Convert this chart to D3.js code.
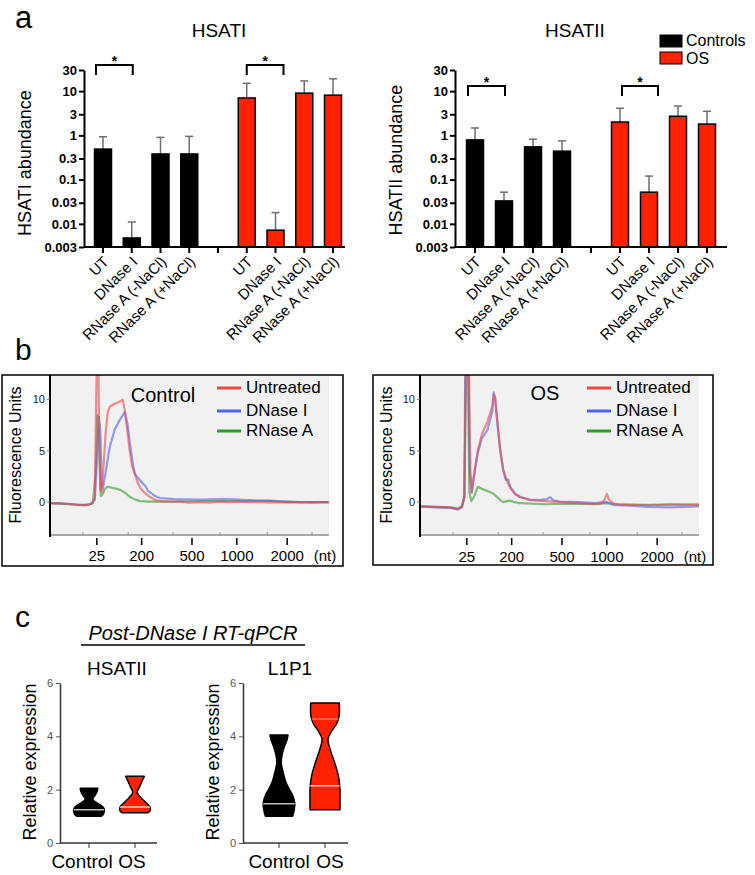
<!DOCTYPE html>
<html>
<head>
<meta charset="utf-8">
<script src="https://cdn.jsdelivr.net/npm/d3@7"></script>
<style>
  body { margin: 0; background: #fff; }
  svg { font-family: "Liberation Sans", Arial, sans-serif; }
</style>
</head>
<body>
<svg id="fig" width="755" height="875"></svg>
<script>
const FONT = '"Liberation Sans", Arial, sans-serif';

// ---------- panel a : abundance (log scale) ----------
const treatments = ["UT", "DNase I", "RNase A (-NaCl)", "RNase A (+NaCl)"];
const groupNames = ["Controls", "OS"];
const groupColors = ["#000000", "#ff2200"];
const logTicks = [0.003, 0.01, 0.03, 0.1, 0.3, 1, 3, 10, 30];
const logTickLabels = ["0.003", "0.01", "0.03", "0.1", "0.3", "1", "3", "10", "30"];

const hsat1Controls = [0.49, 0.0048, 0.38, 0.38];
const hsat1ControlsErr = [0.93, 0.011, 0.90, 0.95];
const hsat1OS = [7.0, 0.0072, 9.0, 8.1];
const hsat1OSErr = [15, 0.018, 17, 19];

const hsat2Controls = [0.79, 0.033, 0.55, 0.44];
const hsat2ControlsErr = [1.47, 0.052, 0.82, 0.75];
const hsat2OS = [2.0, 0.052, 2.7, 1.8];
const hsat2OSErr = [4.1, 0.12, 4.6, 3.5];

// ---------- panel b : bioanalyzer traces [time (s), FU] ----------
const ladderNt = ["25", "200", "500", "1000", "2000"];
const ladderTime = [29.4, 38.4, 48.5, 57.5, 67.6];
const minorTime = [26.6, 35.7, 44.7, 54.1, 63.6, 72.6];
const fuTicks = [0, 5, 10];
const traceNames = ["Untreated", "DNase I", "RNase A"];
const traceColors = ["#f04848", "#4d62f2", "#2f9a2f"];

const ctrlUntreated = [[20,-0.1],[22,-0.1],[24,-0.2],[26,-0.3],[27.5,-0.3],[28.5,-0.1],[29.0,0.5],[29.2,8],[29.4,14],[29.7,14],[29.9,5],[30.1,1.2],[30.4,1.0],[30.8,4],[31.2,7],[31.6,8.8],[32.0,9.3],[33,9.6],[34,9.8],[34.6,10.0],[35.0,9.0],[35.5,7],[36.0,5],[36.5,3.5],[37.1,2.6],[37.6,1.9],[38.1,1.4],[39,0.9],[40.1,0.5],[41.1,0.2],[43,0.05],[46,0.05],[48,-0.05],[50,0.0],[52,-0.05],[54,0.05],[56,0.0],[58,0.05],[60,0.0],[62,0.02],[64,-0.05],[66,0.0],[68,-0.05],[70,0.0],[72,-0.05],[76,0.0]];
const ctrlDNase = [[20,-0.1],[23,-0.15],[26,-0.25],[28,-0.2],[29,0.2],[29.5,5],[29.8,8.3],[30.1,7],[30.4,1.5],[30.6,1.3],[31.2,3],[32,5.4],[33,7.1],[34,8.0],[35,8.8],[35.6,7.5],[36.1,5.5],[36.7,3.5],[37.1,2.7],[38.1,2.1],[39.1,1.6],[39.7,1.1],[41.1,0.6],[42.1,0.4],[45,0.3],[50,0.25],[55,0.3],[60,0.2],[66,0.1],[70,0],[76,0]];
const ctrlRNase = [[20,-0.1],[24,-0.2],[27,-0.3],[28.6,-0.1],[29.2,3],[29.5,8.5],[29.8,7],[30.2,0.6],[30.6,0.8],[31.0,1.3],[31.6,1.5],[32.5,1.4],[33.1,1.35],[34.1,1.2],[35.1,0.9],[36.1,0.5],[37.1,0.25],[38.1,0.1],[40,0.05],[45,0.05],[50,0.1],[55,0.1],[60,0.1],[64,0.15],[66,0.05],[70,0],[76,0]];

const osUntreated = [[20,-0.4],[23,-0.45],[26,-0.5],[27.6,-0.7],[28.4,-0.5],[28.9,0.5],[29.2,14],[29.8,14],[30.1,3],[30.4,0.9],[30.7,2.2],[31.0,3.2],[31.6,5.0],[32.4,6.6],[33.5,7.8],[34.5,9.3],[34.8,10.5],[35.1,10.2],[35.5,8.0],[36.1,5.2],[36.7,3.2],[37.5,2.0],[38.1,1.4],[39.1,0.8],[40.1,0.5],[42.1,0.2],[45,0.1],[48,0.0],[52,-0.1],[56,-0.2],[57.0,0.2],[57.5,0.8],[58.0,0.2],[59,-0.2],[62,-0.25],[66,-0.3],[70,-0.25],[76,-0.3]];
const osDNase = [[20,-0.4],[23,-0.5],[26,-0.55],[27.6,-0.7],[28.4,-0.5],[28.9,0.5],[29.1,14],[29.7,14],[30.0,3],[30.4,1.0],[30.7,2.0],[31.0,3.0],[31.6,4.8],[32.4,6.2],[33.5,7.0],[34.5,8.8],[34.8,10.7],[35.1,10.0],[35.5,7.8],[36.1,5.0],[36.7,3.1],[37.2,2.2],[37.7,2.2],[38.1,1.5],[39.1,0.8],[40.1,0.5],[42.1,0.25],[44,0.2],[45.5,0.3],[46.1,0.5],[46.7,0.2],[48,0.05],[52,0.0],[55,-0.1],[57.5,0.0],[59,-0.3],[62,-0.35],[66,-0.45],[70,-0.5],[73,-0.45],[76,-0.4]];
const osRNase = [[20,-0.4],[23,-0.45],[26,-0.5],[27.6,-0.6],[28.4,-0.4],[28.9,0.5],[29.3,14],[29.6,14],[29.9,1],[30.3,0.1],[30.8,0.5],[31.6,1.5],[32.4,1.3],[33.5,1.1],[34.5,0.9],[35.5,0.5],[36.1,0.2],[36.7,0.0],[37.5,0.1],[38.1,0.15],[39,0.0],[40,-0.1],[45,-0.2],[50,-0.15],[55,-0.2],[57.5,-0.1],[60,-0.2],[66,-0.25],[70,-0.2],[76,-0.2]];

// ---------- panel c : violins [value, relative half-width] ----------
const violinGroups = ["Control", "OS"];
const exprTicks = [0, 2, 4, 6];
const hsat2CtrlShape = [[1.0,0.8],[1.08,0.97],[1.3,1.0],[1.45,0.7],[1.55,0.4],[1.65,0.25],[1.8,0.42],[1.95,0.55],[2.05,0.58]];
const hsat2OSShape = [[1.13,0.85],[1.2,1.0],[1.35,1.0],[1.5,0.75],[1.7,0.4],[1.9,0.15],[2.1,0.3],[2.3,0.45],[2.5,0.62]];
const hsat2Medians = [1.25, 1.35];
const l1p1CtrlShape = [[1.0,0.9],[1.2,1.0],[1.5,1.05],[1.8,0.9],[2.0,0.7],[2.3,0.45],[2.6,0.3],[3.0,0.15],[3.3,0.2],[3.6,0.35],[3.9,0.55],[4.05,0.6]];
const l1p1OSShape = [[1.25,1.0],[1.6,1.0],[2.0,1.0],[2.5,0.9],[3.0,0.65],[3.5,0.35],[3.9,0.2],[4.2,0.45],[4.5,0.8],[4.8,0.95],[5.25,0.95]];
const l1p1Medians = [1.47, 2.15];
const l1p1Quartiles = [[], [4.65]];

const svg = d3.select("#fig");

function panelLetter(txt, x, y, size) {
  svg.append("text").attr("x", x).attr("y", y).attr("font-size", size).text(txt);
}

// ===== panel a =====
function drawAbundance(cfg) {
  const g = svg.append("g").attr("transform", `translate(${cfg.left},0)`);
  const y = d3.scaleLog().domain([0.003, 30]).range([247, 70]);
  const slots = treatments.map(t => "C" + t).concat(["gap"], treatments.map(t => "O" + t));
  const x = d3.scalePoint().domain(slots).range(cfg.xRange);

  const rows = [];
  treatments.forEach((t, i) => rows.push({ slot: "C" + t, v: cfg.ctrl[i], e: cfg.ctrlErr[i], c: groupColors[0] }));
  treatments.forEach((t, i) => rows.push({ slot: "O" + t, v: cfg.os[i], e: cfg.osErr[i], c: groupColors[1] }));

  // error bars
  const eg = g.selectAll(".err").data(rows).join("g").attr("stroke", "#6e6e6e").attr("stroke-width", 1.5);
  eg.append("line").attr("x1", d => x(d.slot)).attr("x2", d => x(d.slot)).attr("y1", d => y(d.v)).attr("y2", d => y(d.e));
  eg.append("line").attr("x1", d => x(d.slot) - 4).attr("x2", d => x(d.slot) + 4).attr("y1", d => y(d.e)).attr("y2", d => y(d.e));

  // bars
  g.selectAll(".bar").data(rows).join("rect")
    .attr("x", d => x(d.slot) - 8.5).attr("width", 17)
    .attr("y", d => y(d.v)).attr("height", d => y(0.003) - y(d.v))
    .attr("fill", d => d.c).attr("stroke", "#000").attr("stroke-width", 1.5);

  // y axis
  g.append("g")
    .call(d3.axisLeft(y).tickValues(logTicks).tickFormat((d, i) => logTickLabels[i]).tickSize(5).tickSizeOuter(0))
    .attr("font-family", FONT).attr("font-size", 13).attr("font-weight", "bold")
    .call(a => a.select(".domain").attr("stroke-width", 2))
    .call(a => a.selectAll(".tick line").attr("stroke-width", 2))
    .call(a => a.selectAll(".tick text").attr("x", -7));

  // x axis
  g.append("line").attr("x1", 0).attr("x2", cfg.axisLen).attr("y1", y(0.003)).attr("y2", y(0.003))
    .attr("stroke", "#000").attr("stroke-width", 2);
  const tk = g.selectAll(".xt").data(slots).join("g").attr("transform", d => `translate(${x(d)},${y(0.003)})`);
  tk.append("line").attr("y2", 6).attr("stroke", "#000").attr("stroke-width", 2);
  tk.append("text").attr("transform", "translate(3,12) rotate(-45)")
    .attr("text-anchor", "end").attr("dy", "0.35em").attr("font-size", 15)
    .text(d => d === "gap" ? "" : d.slice(1));

  // significance brackets
  cfg.brackets.forEach(b => {
    const x0 = x(b.from) + b.off[0], x1 = x(b.to) + b.off[1], yb = y(cfg.bracketAt);
    g.append("path").attr("d", `M${x0},${yb + 10}V${yb}H${x1}V${yb + 10}`)
      .attr("fill", "none").attr("stroke", "#000").attr("stroke-width", 2);
    g.append("text").attr("x", (x0 + x1) / 2).attr("y", yb + 1).attr("text-anchor", "middle")
      .attr("font-size", 14).attr("font-weight", "bold").text("*");
  });

  // titles
  g.append("text").attr("x", cfg.titleX).attr("y", 37).attr("text-anchor", "middle").attr("font-size", 19).text(cfg.title);
  g.append("text").attr("transform", `translate(${cfg.labelX},${cfg.labelY}) rotate(-90)`)
    .attr("text-anchor", "middle").attr("dy", "0.35em").attr("font-size", 18).text(cfg.yLabel);
}

panelLetter("a", 15, 28, 31);
drawAbundance({
  left: 84, xRange: [19, 249], axisLen: 261, title: "HSATI", titleX: 135,
  yLabel: "HSATI abundance", labelX: -59, labelY: 163,
  ctrl: hsat1Controls, ctrlErr: hsat1ControlsErr, os: hsat1OS, osErr: hsat1OSErr,
  bracketAt: 39,
  brackets: [{ from: "CUT", to: "CDNase I", off: [-7, 1] }, { from: "OUT", to: "ODNase I", off: [0, 8] }]
});
drawAbundance({
  left: 455, xRange: [20, 252], axisLen: 272, title: "HSATII", titleX: 120,
  yLabel: "HSATII abundance", labelX: -59, labelY: 160,
  ctrl: hsat2Controls, ctrlErr: hsat2ControlsErr, os: hsat2OS, osErr: hsat2OSErr,
  bracketAt: 13,
  brackets: [{ from: "CUT", to: "CDNase I", off: [-7, 1] }, { from: "OUT", to: "ODNase I", off: [2, 9] }]
});

// legend a
const legA = svg.append("g");
groupNames.forEach((n, i) => {
  legA.append("rect").attr("x", 660).attr("y", 35 + i * 17).attr("width", 22).attr("height", 12)
    .attr("fill", groupColors[i]).attr("stroke", "#000").attr("stroke-width", 1);
  legA.append("text").attr("x", 686).attr("y", 46 + i * 18).attr("font-size", 16).text(n);
});

// ===== panel b =====
function drawTrace(cfg) {
  const g = svg.append("g");
  const pl = cfg.plotLeft, pw = 279, top = 375, bottom = 535;
  const x = d3.scaleLinear().domain([20, 76]).range([pl, pl + pw]);
  const y = d3.scaleLinear().domain([-3.2, 12.4]).range([bottom, top]);

  g.append("rect").attr("x", pl).attr("y", top).attr("width", pw).attr("height", bottom - top).attr("fill", "#f1f1f1");
  g.append("line").attr("x1", pl).attr("x2", pl + pw).attr("y1", bottom).attr("y2", bottom)
    .attr("stroke", "#a8a8a8").attr("stroke-width", 2);
  g.selectAll(".mt").data(minorTime).join("line")
    .attr("x1", d => x(d)).attr("x2", d => x(d)).attr("y1", bottom - 3).attr("y2", bottom + 1)
    .attr("stroke", "#999").attr("stroke-width", 1);

  const clipId = "clip" + cfg.id;
  g.append("clipPath").attr("id", clipId).append("rect")
    .attr("x", pl).attr("y", top).attr("width", pw).attr("height", bottom - top);

  const line = d3.line().x(d => x(d[0])).y(d => y(d[1]));
  const order = [2, 1, 0];
  g.append("g").attr("clip-path", `url(#${clipId})`)
    .selectAll("path").data(order).join("path")
    .attr("d", i => line(cfg.traces[i])).attr("fill", "none")
    .attr("stroke", i => traceColors[i]).attr("stroke-width", 2.2).attr("stroke-opacity", 0.6)
    .attr("stroke-linejoin", "round");

  // y axis
  g.append("line").attr("x1", pl).attr("x2", pl).attr("y1", top).attr("y2", bottom + 2)
    .attr("stroke", "#000").attr("stroke-width", 2);
  g.selectAll(".yt").data(fuTicks).join("line")
    .attr("x1", pl - 3).attr("x2", pl).attr("y1", d => y(d)).attr("y2", d => y(d)).attr("stroke", "#777");
  g.selectAll(".yl").data(fuTicks).join("text")
    .attr("x", pl - 5).attr("y", d => y(d)).attr("dy", "0.35em").attr("text-anchor", "end")
    .attr("font-size", 11).attr("fill", "#222").text(d => d);

  // ladder ticks/labels
  g.selectAll(".lt").data(ladderTime).join("line")
    .attr("x1", d => x(d)).attr("x2", d => x(d)).attr("y1", bottom + 3).attr("y2", bottom + 10)
    .attr("stroke", "#000").attr("stroke-width", 1.5);
  g.selectAll(".ll").data(ladderNt).join("text")
    .attr("x", (d, i) => x(ladderTime[i])).attr("y", cfg.labelBase).attr("text-anchor", "middle")
    .attr("font-size", 15).text(d => d);
  g.append("text").attr("x", pl + pw - 4).attr("y", cfg.labelBase).attr("text-anchor", "middle")
    .attr("font-size", 15).text("(nt)");

  // frame
  g.append("rect").attr("x", cfg.frame[0]).attr("y", cfg.frame[1]).attr("width", cfg.frame[2]).attr("height", cfg.frame[3])
    .attr("fill", "none").attr("stroke", "#000").attr("stroke-width", 1.5);

  // y label
  g.append("text").attr("transform", `translate(${cfg.frame[0] + 13},455) rotate(-90)`)
    .attr("text-anchor", "middle").attr("dy", "0.35em").attr("font-size", 16).text("Fluorescence Units");

  // title + legend
  g.append("text").attr("x", cfg.titleX).attr("y", cfg.titleY).attr("text-anchor", "middle")
    .attr("font-size", 20).text(cfg.title);
  const legY = [388, 411, 431];
  traceNames.forEach((n, i) => {
    g.append("line").attr("x1", pl + 167).attr("x2", pl + 191).attr("y1", legY[i]).attr("y2", legY[i])
      .attr("stroke", traceColors[i]).attr("stroke-width", 3);
    g.append("text").attr("x", pl + 196).attr("y", legY[i] + 5).attr("font-size", 17).text(n);
  });
}

panelLetter("b", 15, 360, 30);
drawTrace({
  id: "L", plotLeft: 50, frame: [2, 375, 341, 191], title: "Control", titleX: 163, titleY: 402, labelBase: 561,
  traces: [ctrlUntreated, ctrlDNase, ctrlRNase]
});
drawTrace({
  id: "R", plotLeft: 420, frame: [373, 375, 340, 190], title: "OS", titleX: 545, titleY: 400, labelBase: 562,
  traces: [osUntreated, osDNase, osRNase]
});

// ===== panel c =====
panelLetter("c", 15, 627, 30);
svg.append("text").attr("x", 193).attr("y", 640).attr("text-anchor", "middle")
  .attr("font-size", 20).attr("font-style", "italic").text("Post-DNase I RT-qPCR");
svg.append("line").attr("x1", 81).attr("x2", 305).attr("y1", 645).attr("y2", 645)
  .attr("stroke", "#000").attr("stroke-width", 1.5);

function drawViolins(cfg) {
  const g = svg.append("g").attr("transform", `translate(${cfg.left},0)`);
  const y = d3.scaleLinear().domain([0, 6]).range([843, 683]);
  const x = d3.scalePoint().domain(violinGroups).range(cfg.xRange);
  const w = d3.scaleLinear().domain([0, 1]).range([0, 15]);
  const area = d3.area().y(d => y(d[0])).x0(d => -w(d[1])).x1(d => w(d[1])).curve(d3.curveCatmullRom.alpha(0.5));

  violinGroups.forEach((grp, i) => {
    const vg = g.append("g").attr("transform", `translate(${x(grp)},0)`);
    const cid = "vclip" + cfg.id + i;
    vg.append("clipPath").attr("id", cid).append("path").attr("d", area(cfg.shapes[i]));
    vg.append("path").attr("d", area(cfg.shapes[i])).attr("fill", groupColors[i])
      .attr("stroke", "#000").attr("stroke-width", 1.5).attr("stroke-linejoin", "round");
    (cfg.quartiles ? cfg.quartiles[i] : []).forEach(q => {
      vg.append("line").attr("clip-path", `url(#${cid})`).attr("x1", -16).attr("x2", 16)
        .attr("y1", y(q)).attr("y2", y(q)).attr("stroke", "#ff9a80").attr("stroke-width", 1.2);
    });
    vg.append("line").attr("clip-path", `url(#${cid})`).attr("x1", -16).attr("x2", 16)
      .attr("y1", y(cfg.medians[i])).attr("y2", y(cfg.medians[i]))
      .attr("stroke", i === 0 ? "#bdbdbd" : "#ffd0c0").attr("stroke-width", 1.5);
  });

  g.append("g")
    .call(d3.axisLeft(y).tickValues(exprTicks).tickFormat(d3.format("d")).tickSize(4).tickSizeOuter(0))
    .attr("font-family", FONT).attr("font-size", 11)
    .call(a => a.select(".domain").attr("stroke", "#333").attr("stroke-width", 1.5))
    .call(a => a.selectAll(".tick line").attr("stroke", "#555"))
    .call(a => a.selectAll(".tick text").attr("fill", "#555"));

  g.append("line").attr("x1", 0).attr("x2", cfg.axisLen).attr("y1", y(0)).attr("y2", y(0))
    .attr("stroke", "#333").attr("stroke-width", 1.5);
  g.selectAll(".vt").data(violinGroups).join("line")
    .attr("x1", d => x(d)).attr("x2", d => x(d)).attr("y1", y(0)).attr("y2", y(0) + 5).attr("stroke", "#333");
  g.selectAll(".vl").data(violinGroups).join("text")
    .attr("x", (d, i) => x(d) + cfg.labelShift[i]).attr("y", 868).attr("text-anchor", "middle")
    .attr("font-size", 19).text(d => d);

  g.append("text").attr("x", cfg.titleX).attr("y", 675).attr("text-anchor", "middle").attr("font-size", 19).text(cfg.title);
  g.append("text").attr("transform", `translate(-30,762) rotate(-90)`)
    .attr("text-anchor", "middle").attr("dy", "0.35em").attr("font-size", 18).text("Relative expression");
}

drawViolins({
  id: "H", left: 60, xRange: [29, 75], axisLen: 97, title: "HSATII", titleX: 57, labelShift: [-7, -3],
  shapes: [hsat2CtrlShape, hsat2OSShape], medians: hsat2Medians
});
drawViolins({
  id: "L", left: 243, xRange: [36, 82], axisLen: 105, title: "L1P1", titleX: 47, labelShift: [0, 5],
  shapes: [l1p1CtrlShape, l1p1OSShape], medians: l1p1Medians, quartiles: l1p1Quartiles
});
</script>
</body>
</html>
